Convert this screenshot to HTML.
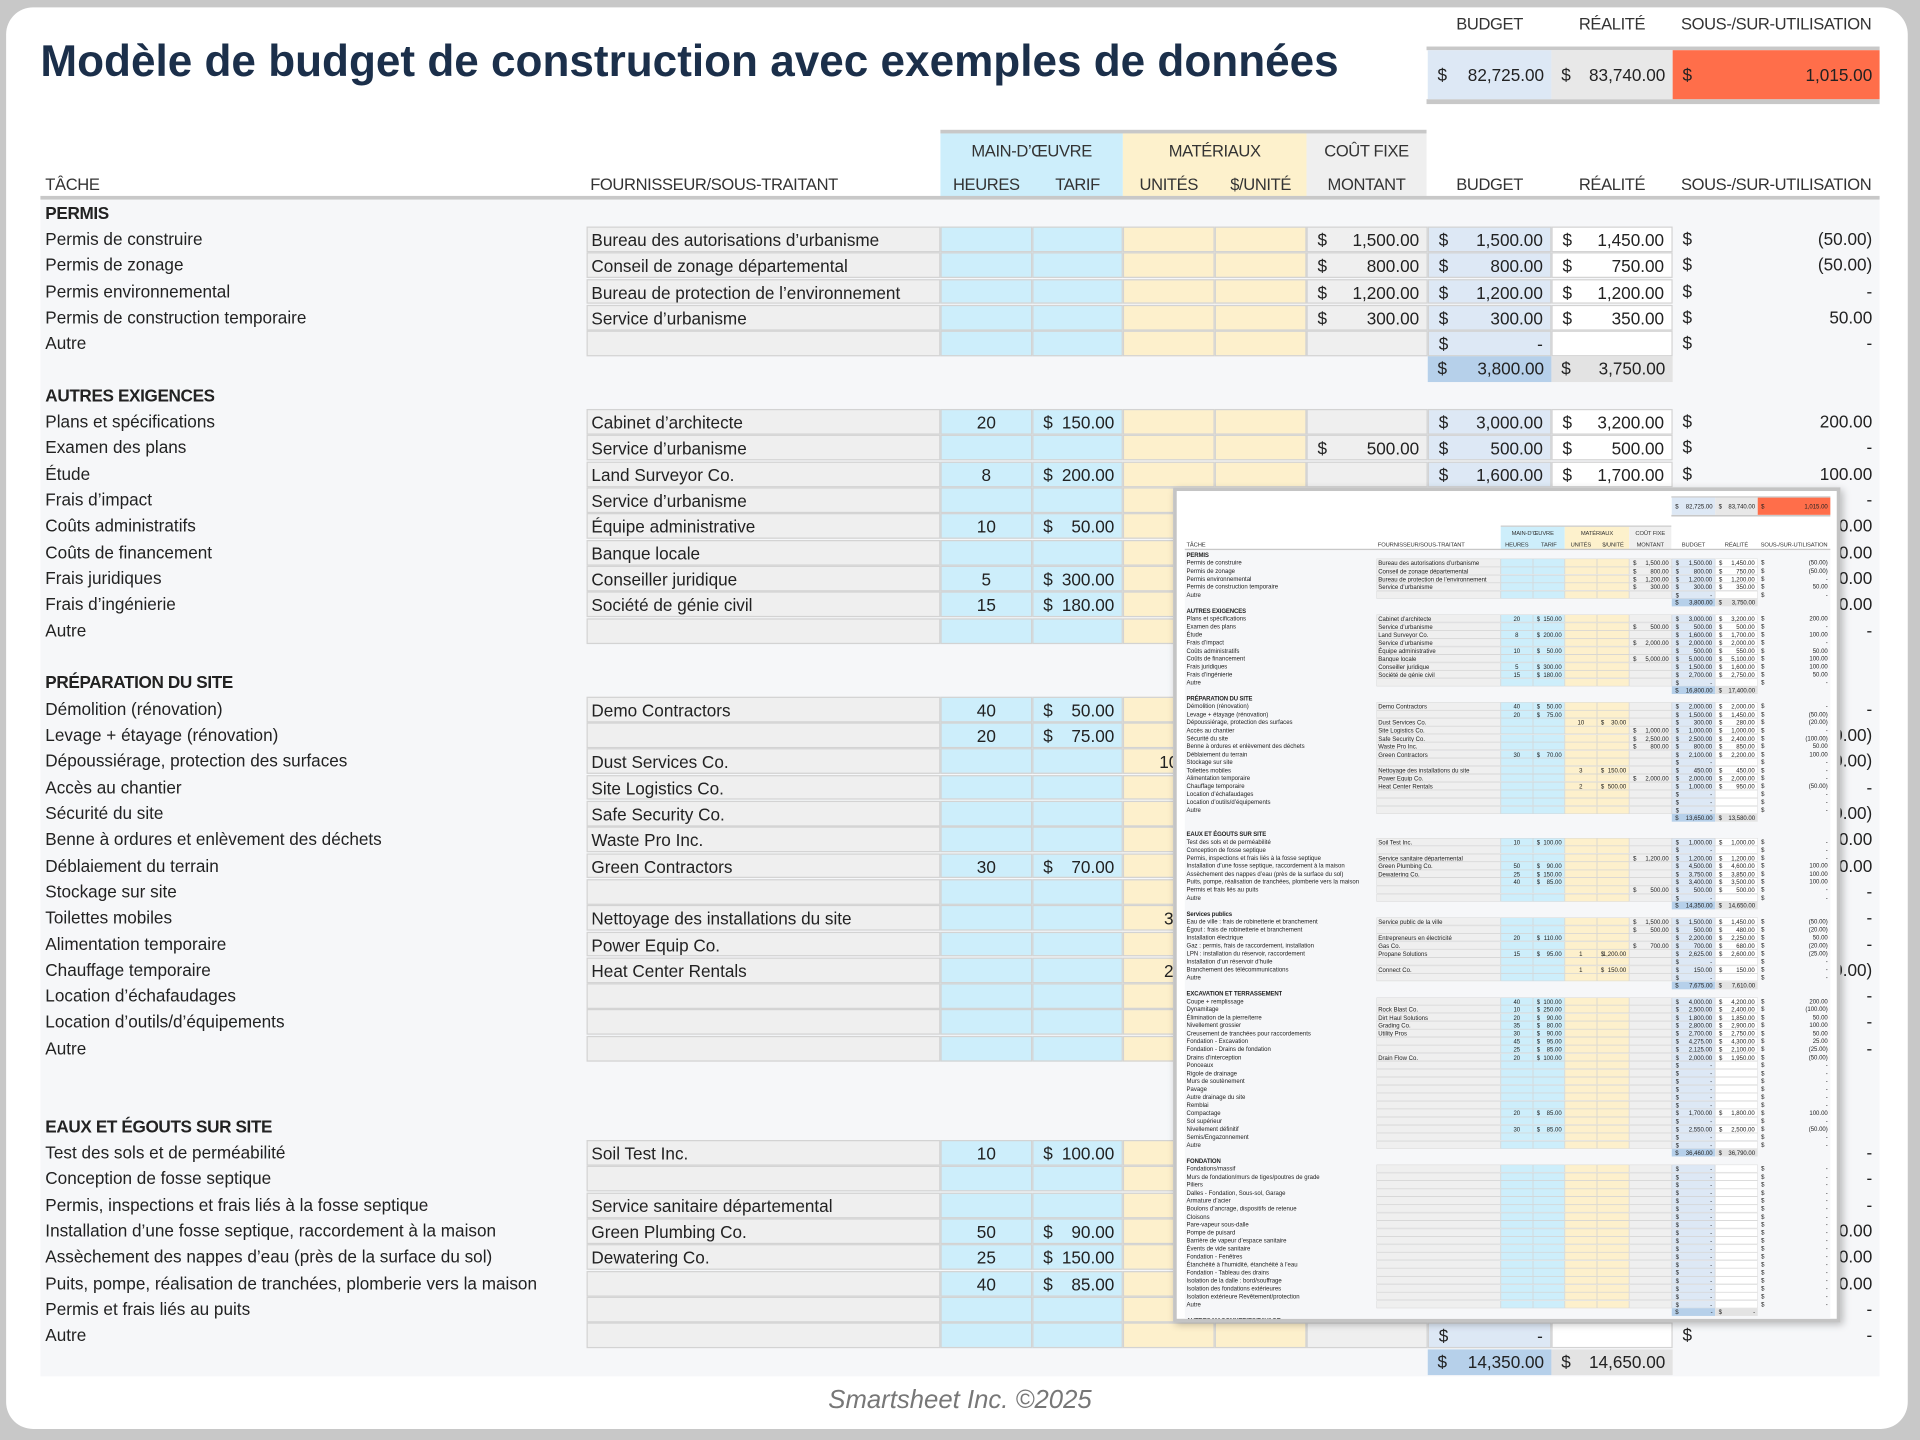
<!DOCTYPE html>
<html><head><meta charset="utf-8">
<style>
html,body{margin:0;padding:0;background:#c8c8c8;}
body{width:1920px;height:1440px;overflow:hidden;position:relative;}
#wrap{position:absolute;left:0;top:0;width:1568px;height:1176px;transform:scale(1.22449);transform-origin:0 0;font-family:"Liberation Sans",sans-serif;color:#222;}
#frame{position:absolute;left:5px;top:6px;width:1553px;height:1161px;background:#fff;border-radius:22px;overflow:hidden;}
.a{position:absolute;white-space:nowrap;box-sizing:border-box;}
.c{position:absolute;box-sizing:border-box;font-size:14px;white-space:nowrap;overflow:hidden;}
.d{position:absolute;left:8px;}
.v{position:absolute;right:6px;}
#inset{position:absolute;left:958px;top:398px;width:545px;height:682px;overflow:hidden;background:#fff;border:3px solid #c4c4c4;box-sizing:border-box;box-shadow:2px 2px 6px rgba(0,0,0,.25);}
#mini{position:absolute;left:-5px;top:-9px;width:1568px;height:2000px;transform:scale(0.351);transform-origin:0 0;}
</style></head><body>
<div id="wrap">
<div id="frame"></div>
<div id="main" class="a" style="left:0;top:0;width:1568px;height:1176px"></div>
<div class="a" style="left:33px;top:29px;font-size:36px;font-weight:bold;color:#1b2f4a;letter-spacing:0px">Modèle de budget de construction avec exemples de données</div>
<div id="inset"><div id="mini"></div></div>
<div class="a" style="left:0;width:1568px;top:1132px;text-align:center;font-size:21px;font-style:italic;color:#777">Smartsheet Inc. ©2025</div>
</div>
<script>
function fmt(v){if(v===0)return '-';var n=Math.abs(v);var s=n.toFixed(2);var p=s.split('.');p[0]=p[0].replace(/\B(?=(\d{3})+(?!\d))/g,',');s=p[0]+'.'+p[1];return v<0?'('+s+')':s;}
var C={f:[479,768],h:[768,843],ta:[843,917],u:[917,992],pu:[992,1067],m:[1067,1166],b:[1166,1267],r:[1267,1366],s:[1366,1535]};
function cell(k,top,h,bg,inner,bd){var x=C[k];return '<div class="c" style="left:'+x[0]+'px;top:'+top+'px;width:'+(x[1]-x[0])+'px;height:'+h+'px;line-height:'+h+'px;background:'+bg+';'+(bd?'border:1px solid #d3d3d3;':'')+'">'+inner+'</div>';}
function money(v){return '<span class="d">$</span><span class="v">'+v+'</span>';}
function R(t,f,o){o=o||{};o.t=t;o.f=f;o.k='r';return o;}
function H(t){return {k:'h',t:t};}
function T(b,r){return {k:'t',b:b,r:r};}
var B={k:'x'};
var rows=[H('PERMIS'),
R('Permis de construire','Bureau des autorisations d’urbanisme',{m:1500,b:1500,r:1450}),
R('Permis de zonage','Conseil de zonage départemental',{m:800,b:800,r:750}),
R('Permis environnemental','Bureau de protection de l’environnement',{m:1200,b:1200,r:1200}),
R('Permis de construction temporaire','Service d’urbanisme',{m:300,b:300,r:350}),
R('Autre',''),T(3800,3750),
H('AUTRES EXIGENCES'),
R('Plans et spécifications','Cabinet d’architecte',{h:20,ta:150,b:3000,r:3200}),
R('Examen des plans','Service d’urbanisme',{m:500,b:500,r:500}),
R('Étude','Land Surveyor Co.',{h:8,ta:200,b:1600,r:1700}),
R('Frais d’impact','Service d’urbanisme',{m:2000,b:2000,r:2000}),
R('Coûts administratifs','Équipe administrative',{h:10,ta:50,b:500,r:550}),
R('Coûts de financement','Banque locale',{m:5000,b:5000,r:5100}),
R('Frais juridiques','Conseiller juridique',{h:5,ta:300,b:1500,r:1600}),
R('Frais d’ingénierie','Société de génie civil',{h:15,ta:180,b:2700,r:2750}),
R('Autre',''),T(16800,17400),
H('PRÉPARATION DU SITE'),
R('Démolition (rénovation)','Demo Contractors',{h:40,ta:50,b:2000,r:2000}),
R('Levage + étayage (rénovation)','',{h:20,ta:75,b:1500,r:1450}),
R('Dépoussiérage, protection des surfaces','Dust Services Co.',{u:10,pu:30,b:300,r:280}),
R('Accès au chantier','Site Logistics Co.',{m:1000,b:1000,r:1000}),
R('Sécurité du site','Safe Security Co.',{m:2500,b:2500,r:2400}),
R('Benne à ordures et enlèvement des déchets','Waste Pro Inc.',{m:800,b:800,r:850}),
R('Déblaiement du terrain','Green Contractors',{h:30,ta:70,b:2100,r:2200}),
R('Stockage sur site',''),
R('Toilettes mobiles','Nettoyage des installations du site',{u:3,pu:150,b:450,r:450}),
R('Alimentation temporaire','Power Equip Co.',{m:2000,b:2000,r:2000}),
R('Chauffage temporaire','Heat Center Rentals',{u:2,pu:500,b:1000,r:950}),
R('Location d’échafaudages',''),
R('Location d’outils/d’équipements',''),
R('Autre',''),T(13650,13580),B,
H('EAUX ET ÉGOUTS SUR SITE'),
R('Test des sols et de perméabilité','Soil Test Inc.',{h:10,ta:100,b:1000,r:1000}),
R('Conception de fosse septique',''),
R('Permis, inspections et frais liés à la fosse septique','Service sanitaire départemental',{m:1200,b:1200,r:1200}),
R('Installation d’une fosse septique, raccordement à la maison','Green Plumbing Co.',{h:50,ta:90,b:4500,r:4600}),
R('Assèchement des nappes d’eau (près de la surface du sol)','Dewatering Co.',{h:25,ta:150,b:3750,r:3850}),
R('Puits, pompe, réalisation de tranchées, plomberie vers la maison','',{h:40,ta:85,b:3400,r:3500}),
R('Permis et frais liés au puits','',{m:500,b:500,r:500}),
R('Autre',''),T(14350,14650)];
var extra=[{k:'h2',t:'Services publics'},
R('Eau de ville : frais de robinetterie et branchement','Service public de la ville',{m:1500,b:1500,r:1450}),
R('Égout : frais de robinetterie et branchement','',{m:500,b:500,r:480}),
R('Installation électrique','Entrepreneurs en électricité',{h:20,ta:110,b:2200,r:2250}),
R('Gaz : permis, frais de raccordement, installation','Gas Co.',{m:700,b:700,r:680}),
R('LPN : installation du réservoir, raccordement','Propane Solutions',{h:15,ta:95,u:1,pu:1200,b:2625,r:2600}),
R('Installation d’un réservoir d’huile',''),
R('Branchement des télécommunications','Connect Co.',{u:1,pu:150,b:150,r:150}),
R('Autre',''),T(7675,7610),
H('EXCAVATION ET TERRASSEMENT'),
R('Coupe + remplissage','',{h:40,ta:100,b:4000,r:4200}),
R('Dynamitage','Rock Blast Co.',{h:10,ta:250,b:2500,r:2400}),
R('Élimination de la pierre/terre','Dirt Haul Solutions',{h:20,ta:90,b:1800,r:1850}),
R('Nivellement grossier','Grading Co.',{h:35,ta:80,b:2800,r:2900}),
R('Creusement de tranchées pour raccordements','Utility Pros',{h:30,ta:90,b:2700,r:2750}),
R('Fondation - Excavation','',{h:45,ta:95,b:4275,r:4300}),
R('Fondation - Drains de fondation','',{h:25,ta:85,b:2125,r:2100}),
R('Drains d’interception','Drain Flow Co.',{h:20,ta:100,b:2000,r:1950}),
R('Ponceaux',''),R('Rigole de drainage',''),R('Murs de soutènement',''),R('Pavage',''),R('Autre drainage du site',''),R('Remblai',''),
R('Compactage','',{h:20,ta:85,b:1700,r:1800}),R('Sol supérieur',''),
R('Nivellement définitif','',{h:30,ta:85,b:2550,r:2500}),R('Semis/Engazonnement',''),R('Autre',''),T(36460,36790),
H('FONDATION'),
R('Fondations/massif',''),R('Murs de fondation/murs de tiges/poutres de grade',''),R('Piliers',''),R('Dalles - Fondation, Sous-sol, Garage',''),R('Armature d’acier',''),R('Boulons d’ancrage, dispositifs de retenue',''),R('Cloisons',''),R('Pare-vapeur sous-dalle',''),R('Pompe de puisard',''),R('Barrière de vapeur d’espace sanitaire',''),R('Évents de vide sanitaire',''),R('Fondation - Fenêtres',''),R('Étanchéité à l’humidité, étanchéité à l’eau',''),R('Fondation - Tableau des drains',''),R('Isolation de la dalle : bord/souffrage',''),R('Isolation des fondations extérieures',''),R('Isolation extérieure Revêtement/protection',''),R('Autre',''),T(0,0),
H('AUTRES MAÇONNERIES/PAVAGE'),R('',''),R('','')];

function header(){
 var s='';
 var lab=function(x,y,t,w,al){return '<div class="a" style="left:'+x+'px;top:'+y+'px;width:'+w+'px;text-align:'+(al||'center')+';font-size:13.5px;letter-spacing:-0.3px;color:#333">'+t+'</div>';};
 s+=lab(1166,12,'BUDGET',101)+lab(1267,12,'RÉALITÉ',99)+lab(1366,12,'SOUS-/SUR-UTILISATION',169);
 s+='<div class="a" style="left:1165px;top:38px;width:370px;height:3px;background:#c8c8c8"></div>';
 s+='<div class="a" style="left:1165px;top:81px;width:370px;height:4px;background:#c8c8c8"></div>';
 s+='<div class="c" style="left:1166px;top:41px;width:101px;height:40px;line-height:40px;background:#dde8f5">'+money('82,725.00')+'</div>';
 s+='<div class="c" style="left:1267px;top:41px;width:99px;height:40px;line-height:40px;background:#e8e8e8">'+money('83,740.00')+'</div>';
 s+='<div class="c" style="left:1366px;top:41px;width:169px;height:40px;line-height:40px;background:#ff6e4a">'+money('1,015.00')+'</div>';
 s+='<div class="a" style="left:768px;top:106px;width:397px;height:3px;background:#c8c8c8"></div>';
 s+='<div class="a" style="left:768px;top:109px;width:149px;height:52px;background:#cdeefb"></div>';
 s+='<div class="a" style="left:917px;top:109px;width:150px;height:52px;background:#fdf1cc"></div>';
 s+='<div class="a" style="left:1067px;top:109px;width:98px;height:52px;background:#efefef"></div>';
 s+=lab(768,116,'MAIN-D’ŒUVRE',149)+lab(917,116,'MATÉRIAUX',150)+lab(1067,116,'COÛT FIXE',98);
 var y=143;
 s+=lab(37,y,'TÂCHE',200,'left')+lab(482,y,'FOURNISSEUR/SOUS-TRAITANT',280,'left');
 s+=lab(768,y,'HEURES',75)+lab(843,y,'TARIF',74)+lab(917,y,'UNITÉS',75)+lab(992,y,'$/UNITÉ',75)+lab(1067,y,'MONTANT',98)+lab(1166,y,'BUDGET',101)+lab(1267,y,'RÉALITÉ',99)+lab(1366,y,'SOUS-/SUR-UTILISATION',169);
 s+='<div class="a" style="left:33px;top:160px;width:1502px;height:3px;background:#c8c8c8"></div>';
 return s;
}
function sheet(rows,pitch){
 var s='';
 var endY=174+pitch*(rows.length-1)+pitch/2+1;
 s+='<div class="a" style="left:33px;top:163px;width:1502px;height:'+(endY-163)+'px;background:#f6f7f9"></div>';
 s+=header();
 rows.forEach(function(o,i){
  var cy=174+pitch*i,h=pitch-0.4,top=cy-h/2;
  if(o.k=='x')return;
  if(o.k=='h'||o.k=='h2'){s+='<div class="c" style="left:37px;top:'+top+'px;height:'+h+'px;line-height:'+h+'px;font-weight:bold;letter-spacing:-0.3px">'+o.t+'</div>';return;}
  if(o.k=='t'){s+=cell('b',top,h,'#b6d0ea',money(fmt(o.b)))+cell('r',top,h,'#e3e3e3',money(fmt(o.r)));return;}
  s+='<div class="c" style="left:37px;top:'+top+'px;height:'+h+'px;line-height:'+h+'px;width:440px">'+o.t+'</div>';
  s+=cell('f',top,h,'#efefef','<span style="position:absolute;left:3px">'+o.f+'</span>',1);
  s+=cell('h',top,h,'#cdeefb',o.h!=null?'<div style="text-align:center">'+o.h+'</div>':'',1);
  s+=cell('ta',top,h,'#cdeefb',o.ta!=null?money(fmt(o.ta)):'',1);
  s+=cell('u',top,h,'#fdf0cc',o.u!=null?'<div style="text-align:center">'+o.u+'</div>':'',1);
  s+=cell('pu',top,h,'#fdf0cc',o.pu!=null?money(fmt(o.pu)):'',1);
  s+=cell('m',top,h,'#efefef',o.m!=null?money(fmt(o.m)):'',1);
  s+=cell('b',top,h,'#dde8f5',money(o.b!=null?fmt(o.b):'-'),1);
  s+=cell('r',top,h,'#ffffff',o.r!=null?money(fmt(o.r)):'',1);
  s+=cell('s',top,h,'transparent',money(o.r!=null?fmt(o.r-o.b):'-'));
 });
 return s;
}
document.getElementById('main').innerHTML=sheet(rows,21.32);
document.getElementById('mini').innerHTML=sheet(rows.concat(extra),18.55);
</script>
</body></html>
